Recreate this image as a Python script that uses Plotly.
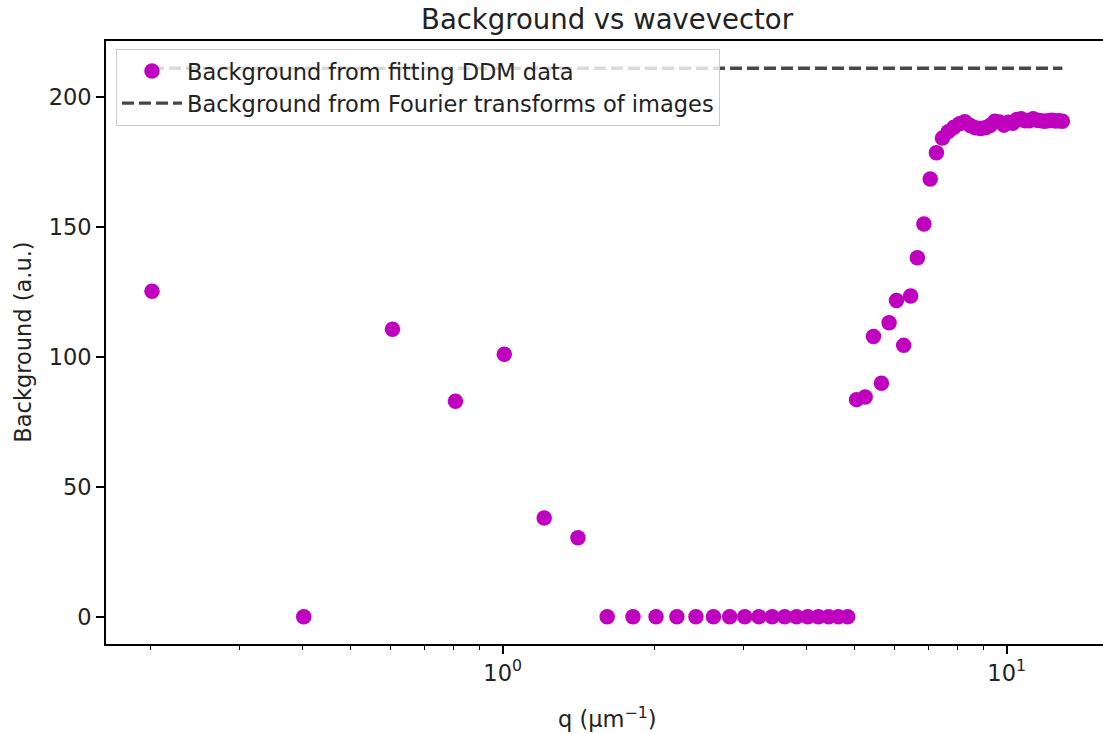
import plotly.graph_objects as go

# wavevector q (um^-1)
q = [0.2015, 0.403, 0.6045, 0.806, 1.0075, 1.209, 1.4105, 1.612, 1.8135, 2.015,
     2.2165, 2.418, 2.6195, 2.821, 3.0225, 3.224, 3.4255, 3.627, 3.8285, 4.03,
     4.2315, 4.433, 4.6345, 4.836, 5.0375, 5.239, 5.4405, 5.642, 5.8435, 6.045,
     6.2465, 6.448, 6.6495, 6.851, 7.0525, 7.254, 7.4555, 7.657, 7.8585, 8.06,
     8.2615, 8.463, 8.6645, 8.866, 9.0675, 9.269, 9.4705, 9.672, 9.8735, 10.075,
     10.2765, 10.478, 10.6795, 10.881, 11.0825, 11.284, 11.4855, 11.687, 11.8885, 12.09,
     12.2915, 12.493, 12.6945, 12.896]

# background from fitting DDM data
background_fit = [125.3, 0, 110.7, 83.0, 101.1, 38.0, 30.4, 0, 0, 0,
                  0, 0, 0, 0, 0, 0, 0, 0, 0, 0,
                  0, 0, 0, 0, 83.6, 84.6, 107.9, 89.9, 113.2, 121.8,
                  104.5, 123.5, 138.2, 151.2, 168.6, 178.7, 184.3, 186.8, 188.5, 189.8,
                  190.6, 189.2, 188.3, 188.0, 188.3, 189.2, 190.8, 190.5, 189.3, 190.4,
                  190.0, 191.5, 191.8, 191.0, 191.0, 191.8, 191.2, 191.0, 190.8, 191.0,
                  191.2, 190.9, 191.0, 190.8]

# background from Fourier transforms of images
background_ft = 211.2
ft_x = [q[0], q[-1]]
ft_y = [background_ft, background_ft]

title_text = "Background vs wavevector"
x_label = "q (μm<sup>−1</sup>)"
y_label = "Background (a.u.)"
legend_fit = "Background from fitting DDM data"
legend_ft = "Background from Fourier transforms of images"

y_ticks = [0, 50, 100, 150, 200]
x_ticks = [1, 10]
x_ticktext = ["10<sup>0</sup>", "10<sup>1</sup>"]
x_minor = [0.2, 0.3, 0.4, 0.5, 0.6, 0.7, 0.8, 0.9, 2, 3, 4, 5, 6, 7, 8, 9]

FONT = "DejaVu Sans"
TXT = "#222222"
FS = 22.5

fig = go.Figure()
fig.add_trace(go.Scatter(
    x=q, y=background_fit, mode="markers", name=legend_fit,
    marker=dict(color="#bf00bf", size=15.5, line=dict(width=0)),
))
fig.add_trace(go.Scatter(
    x=ft_x, y=ft_y, mode="lines", name=legend_ft,
    line=dict(color="rgba(0,0,0,0.72)", width=3.3, dash="12px,5px"),
))

# the axes box continues just past the right edge of the 1103 px view, as in the reference
fig.update_layout(
    width=1111, height=734, autosize=False,
    margin=dict(l=106, r=0, t=41, b=90, pad=0),
    plot_bgcolor="white", paper_bgcolor="white",
    font=dict(family=FONT, size=FS, color=TXT),
    title=dict(text=title_text, x=0.4995, xref="paper", xanchor="center",
               y=0.974, yref="container", yanchor="middle",
               font=dict(family=FONT, size=27.5, color=TXT)),
    showlegend=True,
    legend=dict(x=0.00995, y=0.987, xanchor="left", yanchor="top",
                bgcolor="rgba(255,255,255,0.8)", bordercolor="#cccccc", borderwidth=1,
                font=dict(family=FONT, size=FS, color=TXT),
                itemwidth=60, tracegroupgap=0),
)

fig.update_xaxes(
    type="log", range=[-0.787, 1.203],
    showgrid=False, zeroline=False,
    showline=True, linecolor="black", linewidth=1.6, mirror=True,
    tickmode="array", tickvals=x_ticks, ticktext=x_ticktext,
    ticks="outside", ticklen=8, tickwidth=1.6, tickcolor="black",
    tickfont=dict(family=FONT, size=FS, color=TXT),
    minor=dict(tickmode="array", tickvals=x_minor, ticks="outside",
               ticklen=4.5, tickwidth=1.2, tickcolor="black", showgrid=False),
)
fig.update_yaxes(
    range=[-10.5, 221.7],
    showgrid=False, zeroline=False,
    showline=True, linecolor="black", linewidth=1.6, mirror=True,
    tickmode="array", tickvals=y_ticks,
    ticks="outside", ticklen=8, tickwidth=1.6, tickcolor="black",
    tickfont=dict(family=FONT, size=FS, color=TXT),
)

fig.add_annotation(text=x_label, xref="paper", yref="paper",
                   x=0.4995, y=-0.1227, xanchor="center", yanchor="middle",
                   showarrow=False, font=dict(family=FONT, size=FS, color=TXT))
fig.add_annotation(text=y_label, xref="paper", yref="paper",
                   x=-0.0836, y=0.5, xanchor="center", yanchor="middle",
                   textangle=-90, showarrow=False,
                   font=dict(family=FONT, size=FS, color=TXT))

fig.write_html("out.html", config={"displayModeBar": False},
               post_script="document.body.style.margin='0';document.body.style.overflow='hidden';")
